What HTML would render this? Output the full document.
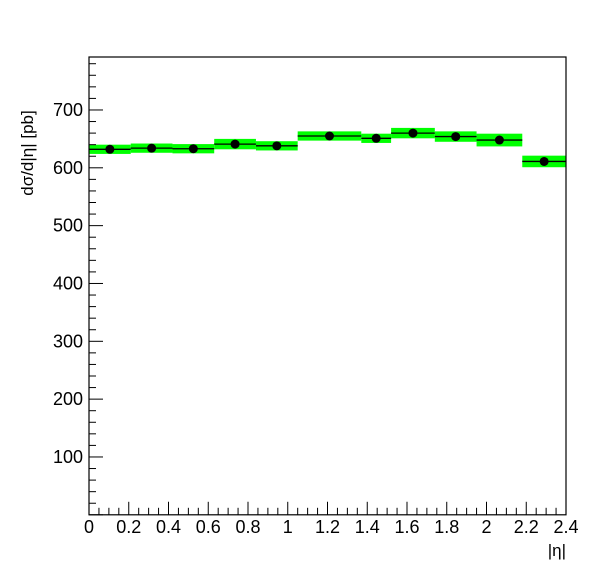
<!DOCTYPE html>
<html><head><meta charset="utf-8"><style>
body{margin:0;background:#fff;}
svg{display:block;font-family:"Liberation Sans",Arial,sans-serif;}
</style></head><body>
<svg id="chart" width="596" height="572" xmlns="http://www.w3.org/2000/svg">
<rect width="596" height="572" fill="#fff"/>
<g id="bands"></g>
<g id="marks"></g>
<g id="axes"></g>
<text x="566" y="556" font-size="17" text-anchor="end">|η|</text>
<text transform="translate(33,153) rotate(-90)" font-size="17" text-anchor="middle">dσ/d|η| [pb]</text>
</svg>
<script>
const binEdges=[0,0.21,0.42,0.63,0.84,1.05,1.37,1.52,1.74,1.95,2.18,2.4];
const values=[632,634,633,641,638,655,651,660,654,648,611];
const errors=[8,8,8,9,8,8,8,9,9,11,10];
const yTicks=[100,200,300,400,500,600,700];
const xTicks=[0,0.2,0.4,0.6,0.8,1,1.2,1.4,1.6,1.8,2,2.2,2.4];
const L=89,R=566,T=57,B=514.8,XMAX=2.4,YMAX=791.6;
const sx=v=>L+v/XMAX*(R-L);
const sy=v=>B-v/YMAX*(B-T);
const NS="http://www.w3.org/2000/svg";
function mk(tag,attrs,parent){const e=document.createElementNS(NS,tag);for(const k in attrs)e.setAttribute(k,attrs[k]);parent.appendChild(e);return e;}
const bands=document.getElementById('bands'),marks=document.getElementById('marks'),axes=document.getElementById('axes');
for(let i=0;i<values.length;i++){
 const x0=sx(binEdges[i]),x1=sx(binEdges[i+1]);
 const r=mk('rect',{x:x0,y:sy(values[i]+errors[i]),width:x1-x0,height:sy(values[i]-errors[i])-sy(values[i]+errors[i]),fill:'#00ff00'},bands);
 
 
 const l=mk('line',{x1:x0,x2:x1,y1:sy(values[i]),y2:sy(values[i]),stroke:'#000','stroke-width':1.3},marks);
 
 
 const c=mk('circle',{cx:(x0+x1)/2,cy:sy(values[i]),r:4.5,fill:'#000'},marks);
 
 
}
const fr=mk('rect',{x:L,y:T,width:R-L,height:B-T,fill:'none',stroke:'#000','stroke-width':1.2},axes);


for(let v=0;v<=YMAX;v+=20){
 const maj=v%100===0, len=maj?14:7, y=sy(v);
 mk('line',{x1:L,x2:L+len,y1:y,y2:y,stroke:'#000'},axes);
}
yTicks.forEach(v=>{const t=mk('text',{x:L-6,y:sy(v)+6,'font-size':18,'text-anchor':'end'},axes);t.textContent=v;
 
 });
for(let k=0;k<=48;k++){
 const v=k*0.05, maj=k%4===0, len=maj?13:7, x=sx(v);
 mk('line',{x1:x,x2:x,y1:B,y2:B-len,stroke:'#000'},axes);
}
xTicks.forEach(v=>{const t=mk('text',{x:sx(v),y:533,'font-size':18,'text-anchor':'middle'},axes);t.textContent=String(Math.round(v*10)/10);
 
 });
</script>
</body></html>
